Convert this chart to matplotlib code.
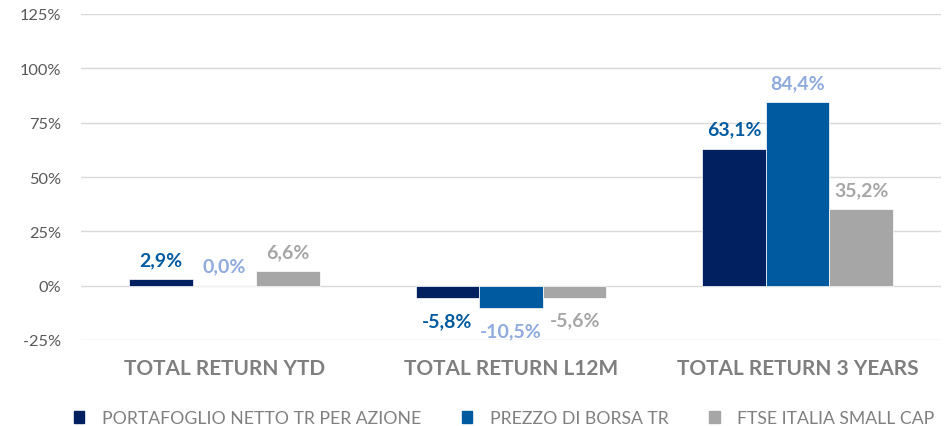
import numpy as np
import matplotlib.pyplot as plt
from matplotlib.patches import Patch

categories = ['TOTAL RETURN YTD', 'TOTAL RETURN L12M', 'TOTAL RETURN 3 YEARS']
series_names = ['PORTAFOGLIO NETTO TR PER AZIONE', 'PREZZO DI BORSA TR', 'FTSE ITALIA SMALL CAP']
portafoglio = [2.9, -5.8, 63.1]
prezzo = [0.0, -10.5, 84.4]
ftse = [6.6, -5.6, 35.2]

bar_colors = ['#002060', '#005aa0', '#a6a6a6']
label_colors = ['#005aa0', '#8faadc', '#a6a6a6']

plt.rcParams['font.family'] = ['Lato', 'DejaVu Sans']

fig = plt.figure(figsize=(9.53, 4.27), dpi=100)
ax = fig.add_axes([81 / 953, 86 / 427, 860 / 953, 326 / 427])

x = np.arange(len(categories))
w = 0.222
for i, vals in enumerate([portafoglio, prezzo, ftse]):
    pos = x + (i - 1) * w
    ax.bar(pos, vals, w, color=bar_colors[i], label=series_names[i], zorder=3,
           edgecolor='white', linewidth=0.5)
    for px, v in zip(pos, vals):
        txt = f'{v:.1f}%'.replace('.', ',')
        off = 8 if v >= 0 else -10
        ax.annotate(txt, (px, v), xytext=(0, off), textcoords='offset points',
                    ha='center', va='bottom' if v >= 0 else 'top',
                    fontsize=14, fontweight='bold', color=label_colors[i])

ax.set_xlim(-0.5, 2.5)
ax.set_ylim(-25, 125)
ax.set_yticks(np.arange(-25, 126, 25))
ax.set_yticklabels([f'{t}%' for t in range(-25, 126, 25)], fontsize=11.8, color='#595959')
ax.set_xticks(x)
ax.set_xticklabels(categories, fontsize=15, fontweight='bold', color='#7f7f7f')
ax.tick_params(axis='both', length=0)
ax.tick_params(axis='y', pad=14)
ax.tick_params(axis='x', pad=13)
ax.grid(axis='y', color='#d9d9d9', linewidth=1, zorder=0)
for s in ax.spines.values():
    s.set_visible(False)

handles = [Patch(color=c) for c in bar_colors]
fig.legend(handles, series_names, loc='center', bbox_to_anchor=(0.529, 0.018),
           ncol=3, frameon=False, labelcolor='#808080',
           prop={'size': 12.7},
           handlelength=0.6, handleheight=0.6, handletextpad=1.0, columnspacing=2.3)

fig.savefig('out.png', dpi=100)
